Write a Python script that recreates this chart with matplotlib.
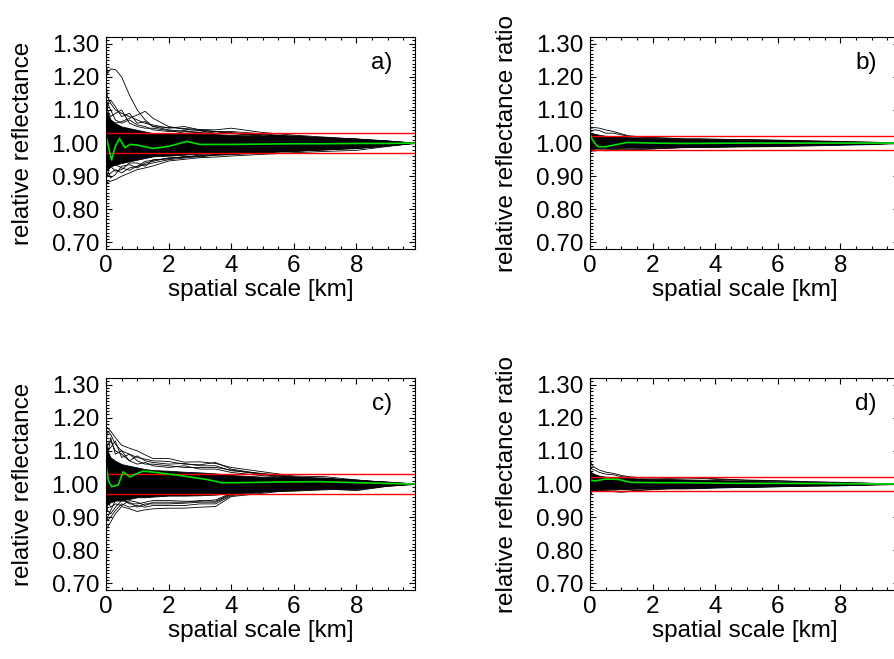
import matplotlib
matplotlib.use("Agg")
import matplotlib.pyplot as plt
from matplotlib.ticker import MultipleLocator, FormatStrFormatter

plt.rcParams['font.family'] = ['Liberation Sans', 'DejaVu Sans']

# spatial scale grid [km] shared by the ensemble curves
scale_km = [0, 0.05, 0.15, 0.3, 0.5, 0.75, 1.0, 1.25, 1.5, 2.0,
            2.5, 3.0, 3.5, 4.0, 5.0, 6.0, 7.0, 8.0, 9.0, 9.87]

# ---- panel a) relative reflectance ----
a_core_hi = [1.10, 1.09, 1.07, 1.06, 1.05, 1.045, 1.04, 1.035, 1.03, 1.03,
             1.03, 1.028, 1.027, 1.025, 1.022, 1.02, 1.018, 1.014, 1.008, 1.0]
a_core_lo = [0.92, 0.92, 0.93, 0.935, 0.94, 0.945, 0.95, 0.955, 0.96, 0.962,
             0.965, 0.968, 0.97, 0.972, 0.975, 0.978, 0.982, 0.986, 0.993, 1.0]
a_curves = [
    [1.245, 1.21, 1.224, 1.222, 1.20, 1.145, 1.10, 1.07, 1.05, 1.047,
     1.044, 1.041, 1.040, 1.045, 1.032, 1.024, 1.018, 1.012, 1.006, 1.0],
    [1.06, 1.09, 1.07, 1.06, 1.065, 1.075, 1.085, 1.096, 1.075, 1.05,
     1.042, 1.038, 1.035, 1.03, 1.025, 1.02, 1.015, 1.01, 1.005, 1.0],
    [1.18, 1.14, 1.12, 1.10, 1.09, 1.08, 1.07, 1.06, 1.055, 1.045,
     1.05, 1.04, 1.035, 1.035, 1.028, 1.02, 1.016, 1.01, 1.005, 1.0],
    [1.13, 1.12, 1.13, 1.11, 1.08, 1.09, 1.06, 1.065, 1.05, 1.04,
     1.035, 1.037, 1.03, 1.03, 1.02, 1.022, 1.014, 1.012, 1.004, 1.0],
    [1.15, 1.10, 1.08, 1.09, 1.10, 1.06, 1.05, 1.045, 1.045, 1.038,
     1.03, 1.032, 1.035, 1.028, 1.025, 1.018, 1.017, 1.009, 1.006, 1.0],
    [1.08, 1.12, 1.10, 1.07, 1.06, 1.07, 1.055, 1.05, 1.04, 1.035,
     1.038, 1.03, 1.028, 1.032, 1.022, 1.02, 1.012, 1.011, 1.004, 1.0],
    [0.89, 0.881, 0.885, 0.89, 0.90, 0.91, 0.92, 0.925, 0.931, 0.946,
     0.951, 0.956, 0.958, 0.961, 0.966, 0.971, 0.975, 0.978, 0.99, 1.0],
    [0.93, 0.90, 0.91, 0.92, 0.91, 0.925, 0.93, 0.935, 0.94, 0.95,
     0.955, 0.96, 0.963, 0.965, 0.97, 0.975, 0.98, 0.983, 0.992, 1.0],
    [0.96, 0.92, 0.895, 0.905, 0.93, 0.935, 0.925, 0.94, 0.945, 0.955,
     0.958, 0.962, 0.966, 0.968, 0.972, 0.976, 0.979, 0.985, 0.993, 1.0],
    [0.91, 0.94, 0.93, 0.915, 0.92, 0.94, 0.94, 0.93, 0.95, 0.952,
     0.96, 0.958, 0.965, 0.966, 0.974, 0.974, 0.982, 0.984, 0.991, 1.0],
    [0.94, 0.95, 0.94, 0.935, 0.925, 0.918, 0.93, 0.945, 0.948, 0.955,
     0.957, 0.964, 0.964, 0.97, 0.971, 0.979, 0.98, 0.986, 0.992, 1.0],
]
a_mean_x = [0, 0.08, 0.18, 0.3, 0.43, 0.61, 0.77, 1.0, 1.5, 2.0, 2.58,
            3.0, 4.0, 5.0, 6.0, 7.0, 8.0, 9.0, 9.87]
a_mean_y = [1.021, 0.99, 0.949, 0.99, 1.014, 0.986, 0.996, 0.994, 0.984,
            0.99, 1.005, 0.996, 0.996, 0.997, 0.998, 0.998, 0.999, 0.999, 1.0]
a_limits = [1.03, 0.97]

# ---- panel b) relative reflectance ratio ----
b_core_hi = [1.03, 1.03, 1.028, 1.025, 1.022, 1.02, 1.02, 1.018, 1.017, 1.015,
             1.014, 1.013, 1.012, 1.011, 1.01, 1.009, 1.007, 1.005, 1.003, 1.0]
b_core_lo = [0.98, 0.982, 0.983, 0.984, 0.985, 0.985, 0.985, 0.986, 0.986, 0.987,
             0.988, 0.988, 0.989, 0.989, 0.99, 0.991, 0.993, 0.995, 0.997, 1.0]
b_curves = [
    [1.05, 1.045, 1.047, 1.045, 1.04, 1.035, 1.028, 1.022, 1.02, 1.017,
     1.015, 1.013, 1.012, 1.012, 1.01, 1.009, 1.007, 1.005, 1.003, 1.0],
    [1.04, 1.035, 1.04, 1.038, 1.03, 1.03, 1.025, 1.02, 1.018, 1.016,
     1.014, 1.012, 1.013, 1.011, 1.011, 1.008, 1.006, 1.004, 1.002, 1.0],
    [0.97, 0.975, 0.978, 0.978, 0.977, 0.978, 0.978, 0.979, 0.98, 0.982,
     0.985, 0.986, 0.987, 0.988, 0.99, 0.991, 0.993, 0.995, 0.997, 1.0],
    [0.975, 0.98, 0.976, 0.979, 0.98, 0.981, 0.98, 0.98, 0.982, 0.984,
     0.984, 0.987, 0.988, 0.989, 0.991, 0.992, 0.994, 0.996, 0.998, 1.0],
]
b_mean_x = [0, 0.05, 0.15, 0.26, 0.5, 0.75, 1.2, 1.6, 2.0, 3.0, 5.0, 7.0, 9.87]
b_mean_y = [1.03, 1.015, 1.0, 0.989, 0.989, 0.994, 1.002, 1.001, 1.0,
            0.999, 1.0, 1.0, 1.0]
b_limits = [1.02, 0.98]

# ---- panel c) relative reflectance ----
c_core_hi = [1.12, 1.10, 1.08, 1.07, 1.06, 1.055, 1.05, 1.045, 1.042, 1.04,
             1.037, 1.035, 1.032, 1.027, 1.022, 1.02, 1.017, 1.013, 1.006, 1.0]
c_core_lo = [0.93, 0.94, 0.945, 0.95, 0.95, 0.955, 0.96, 0.96, 0.962, 0.965,
             0.965, 0.966, 0.968, 0.973, 0.978, 0.98, 0.984, 0.987, 0.995, 1.0]
c_curves = [
    [1.172, 1.17, 1.16, 1.14, 1.117, 1.108, 1.10, 1.088, 1.077, 1.077,
     1.066, 1.067, 1.062, 1.05, 1.037, 1.024, 1.022, 1.012, 1.005, 1.0],
    [1.12, 1.16, 1.15, 1.12, 1.10, 1.09, 1.08, 1.075, 1.07, 1.068,
     1.06, 1.058, 1.065, 1.045, 1.03, 1.02, 1.018, 1.01, 1.004, 1.0],
    [1.09, 1.12, 1.13, 1.10, 1.09, 1.07, 1.085, 1.07, 1.065, 1.06,
     1.062, 1.055, 1.055, 1.04, 1.032, 1.022, 1.015, 1.01, 1.005, 1.0],
    [1.15, 1.10, 1.11, 1.13, 1.08, 1.09, 1.07, 1.06, 1.06, 1.055,
     1.05, 1.05, 1.05, 1.042, 1.028, 1.02, 1.016, 1.012, 1.004, 1.0],
    [1.05, 1.08, 1.14, 1.09, 1.10, 1.07, 1.06, 1.065, 1.055, 1.05,
     1.055, 1.045, 1.045, 1.035, 1.025, 1.018, 1.017, 1.009, 1.006, 1.0],
    [0.86, 0.87, 0.885, 0.91, 0.932, 0.925, 0.917, 0.922, 0.925, 0.927,
     0.927, 0.93, 0.932, 0.962, 0.972, 0.982, 0.985, 0.98, 0.993, 1.0],
    [0.90, 0.89, 0.90, 0.92, 0.94, 0.93, 0.935, 0.93, 0.935, 0.935,
     0.935, 0.94, 0.94, 0.965, 0.975, 0.983, 0.986, 0.982, 0.994, 1.0],
    [0.95, 0.92, 0.91, 0.93, 0.95, 0.945, 0.93, 0.94, 0.94, 0.94,
     0.942, 0.945, 0.945, 0.968, 0.977, 0.985, 0.987, 0.984, 0.995, 1.0],
    [0.93, 0.95, 0.93, 0.94, 0.935, 0.95, 0.945, 0.935, 0.945, 0.945,
     0.945, 0.95, 0.948, 0.97, 0.978, 0.984, 0.989, 0.986, 0.994, 1.0],
    [0.88, 0.90, 0.92, 0.95, 0.955, 0.94, 0.94, 0.945, 0.95, 0.95,
     0.948, 0.948, 0.952, 0.972, 0.98, 0.986, 0.988, 0.99, 0.995, 1.0],
]
c_mean_x = [0, 0.08, 0.18, 0.39, 0.55, 0.77, 0.93, 1.19, 1.5, 2.26, 3.2,
            3.7, 4.28, 5.5, 6.84, 8.85, 9.87]
c_mean_y = [1.057, 1.01, 0.992, 0.997, 1.037, 1.021, 1.029, 1.039, 1.036,
            1.027, 1.014, 1.004, 1.004, 1.006, 1.007, 1.002, 1.0]
c_limits = [1.03, 0.97]

# ---- panel d) relative reflectance ratio ----
d_core_hi = [1.04, 1.035, 1.03, 1.025, 1.022, 1.02, 1.019, 1.018, 1.017, 1.016,
             1.015, 1.014, 1.013, 1.012, 1.01, 1.008, 1.006, 1.004, 1.002, 1.0]
d_core_lo = [0.97, 0.98, 0.982, 0.983, 0.984, 0.984, 0.985, 0.985, 0.986, 0.987,
             0.988, 0.988, 0.989, 0.99, 0.991, 0.993, 0.995, 0.996, 0.998, 1.0]
d_curves = [
    [1.082, 1.057, 1.05, 1.042, 1.036, 1.032, 1.026, 1.022, 1.02, 1.02,
     1.019, 1.019, 1.02, 1.016, 1.012, 1.01, 1.007, 1.005, 1.002, 1.0],
    [1.06, 1.045, 1.042, 1.035, 1.03, 1.028, 1.022, 1.02, 1.019, 1.018,
     1.017, 1.018, 1.017, 1.014, 1.011, 1.009, 1.006, 1.004, 1.002, 1.0],
    [0.955, 0.982, 0.98, 0.979, 0.978, 0.977, 0.975, 0.977, 0.98, 0.983,
     0.985, 0.985, 0.986, 0.988, 0.99, 0.992, 0.994, 0.995, 0.998, 1.0],
    [0.965, 0.975, 0.981, 0.98, 0.98, 0.979, 0.978, 0.979, 0.981, 0.984,
     0.986, 0.987, 0.987, 0.989, 0.991, 0.993, 0.995, 0.996, 0.998, 1.0],
]
d_mean_x = [0, 0.16, 0.5, 0.9, 1.3, 2.0, 3.0, 4.6, 6.0, 8.0, 9.87]
d_mean_y = [1.012, 1.009, 1.015, 1.014, 1.005, 1.004, 1.004, 1.002,
            1.002, 1.001, 1.0]
d_limits = [1.02, 0.98]

y_ticks = [0.70, 0.80, 0.90, 1.00, 1.10, 1.20, 1.30]
x_ticks = [0, 2, 4, 6, 8]

panels = [
    ("a)", "relative reflectance", a_core_hi, a_core_lo, a_curves, a_mean_x, a_mean_y, a_limits),
    ("b)", "relative reflectance ratio", b_core_hi, b_core_lo, b_curves, b_mean_x, b_mean_y, b_limits),
    ("c)", "relative reflectance", c_core_hi, c_core_lo, c_curves, c_mean_x, c_mean_y, c_limits),
    ("d)", "relative reflectance ratio", d_core_hi, d_core_lo, d_curves, d_mean_x, d_mean_y, d_limits),
]

# axes boxes in figure fractions [left, bottom, width, height]
boxes = [
    [0.1184, 0.622, 0.3453, 0.3217],
    [0.6592, 0.622, 0.3453, 0.3217],
    [0.1184, 0.1047, 0.3453, 0.3217],
    [0.6592, 0.1047, 0.3453, 0.3217],
]

fig = plt.figure(figsize=(8.95, 6.59), dpi=100)

for box, (tag, ylabel, hi, lo, curves, mx, my, limits) in zip(boxes, panels):
    ax = fig.add_axes(box)

    # dense part of the ensemble
    ax.fill_between(scale_km, lo, hi, color='black', linewidth=0.6)
    for c in curves:
        ax.plot(scale_km, c, color='black', linewidth=0.6)

    for lim in limits:
        ax.axhline(lim, color='red', linewidth=1.0)
    ax.plot(mx, my, color='#00e000', linewidth=1.2)

    ax.set_xlim(0, 9.87)
    ax.set_ylim(0.68, 1.32)
    ax.set_xticks(x_ticks)
    ax.set_yticks(y_ticks)
    ax.xaxis.set_minor_locator(MultipleLocator(0.5))
    ax.yaxis.set_minor_locator(MultipleLocator(0.01))
    ax.yaxis.set_major_formatter(FormatStrFormatter('%.2f'))
    ax.tick_params(which='both', direction='in', top=True, right=True,
                   labelsize=17.5, width=0.8)
    ax.tick_params(which='major', length=4.5)
    ax.tick_params(which='minor', length=2.2)
    ax.tick_params(axis='x', pad=4.5)
    ax.tick_params(axis='y', pad=5)

    ax.set_xlabel('spatial scale [km]', fontsize=17.5, va='center')
    ax.xaxis.set_label_coords(0.5, -0.195)
    ax.set_ylabel(ylabel, fontsize=17.5, va='center')
    ax.yaxis.set_label_coords(-0.269, 0.5)

    ax.text(0.893, 0.877, tag, transform=ax.transAxes, fontsize=17.5,
            ha='center', va='center')

fig.savefig('out.png', dpi=100)
